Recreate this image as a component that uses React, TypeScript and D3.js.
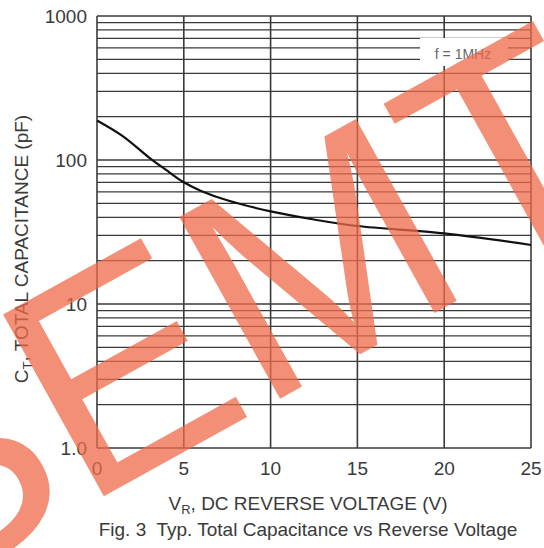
import React from "react";
import * as d3 from "d3";

// Data
const volts = [0, 1.5, 3, 4, 5, 6, 7.5, 10, 12.5, 15, 20, 25];
const capPF = [188, 146, 104, 85, 70, 61, 52.5, 44, 38.6, 34.8, 30.9, 25.7];
const xTicks = [0, 5, 10, 15, 20, 25];
const yTicks = [1, 10, 100, 1000];
const yTickLabels = ["1.0", "10", "100", "1000"];
const decades = [1, 10, 100];
const multiples = [2, 3, 4, 5, 6, 7, 8, 9];
const noteText = "f = 1MHz";
const xTitleMain = "V";
const xTitleSub = "R";
const xTitleRest = ", DC REVERSE VOLTAGE (V)";
const yTitleMain = "C";
const yTitleSub = "T";
const yTitleRest = ", TOTAL CAPACITANCE (pF)";
const caption = "Fig. 3  Typ. Total Capacitance vs Reverse Voltage";
const watermark = "SEMT";

const W = 544;
const H = 548;
const FONT = "'Liberation Sans', Arial, Helvetica, sans-serif";

export default function App() {
  const x = d3.scaleLinear().domain([0, 25]).range([97, 531]);
  const y = d3.scaleLog().domain([1, 1000]).range([448, 16]);

  const pts = volts.map((v, i) => [v, capPF[i]] as [number, number]);
  const line = d3
    .line<[number, number]>()
    .x((d) => x(d[0]))
    .y((d) => y(d[1]))
    .curve(d3.curveCatmullRom.alpha(0.5));

  const minor: number[] = [];
  decades.forEach((d) => multiples.forEach((m) => minor.push(d * m)));

  const gridColor = "#3a3a3a";
  const x0 = x(0);
  const x1 = x(25);

  return (
    <svg
      width={W}
      height={H}
      style={{ position: "absolute", left: 0, top: 0, background: "#fff" }}
      fontFamily={FONT}
    >
      <rect x={0} y={0} width={W} height={H} fill="#fff" />
      {/* horizontal grid */}
      {minor.map((v) => (
        <line key={"m" + v} x1={x0} x2={x1} y1={y(v)} y2={y(v)} stroke={gridColor} strokeWidth={1.3} />
      ))}
      {yTicks.map((v) => (
        <line key={"M" + v} x1={x0} x2={x1} y1={y(v)} y2={y(v)} stroke={gridColor} strokeWidth={1.5} />
      ))}
      {/* vertical grid */}
      {xTicks.map((v) => (
        <line key={"v" + v} x1={x(v)} x2={x(v)} y1={y(1000)} y2={y(1)} stroke={gridColor} strokeWidth={1.6} />
      ))}
      {/* note box */}
      <rect x={420} y={38} width={88} height={28} fill="#fff" />
      <text x={463} y={59} fontSize={14} fill="#666" textAnchor="middle">
        {noteText}
      </text>
      {/* curve */}
      <path d={line(pts) || ""} fill="none" stroke="#111" strokeWidth={2.2} />
      {/* y tick labels */}
      {yTicks.map((v, i) => (
        <text key={"yl" + v} x={87} y={y(v)} dy="0.36em" fontSize={19} fill="#3a3a3a" textAnchor="end">
          {yTickLabels[i]}
        </text>
      ))}
      {/* x tick labels */}
      {xTicks.map((v) => (
        <text key={"xl" + v} x={x(v)} y={475} fontSize={19} fill="#3a3a3a" textAnchor="middle">
          {v}
        </text>
      ))}
      {/* x title */}
      <text x={308} y={510} fontSize={19} fill="#3a3a3a" textAnchor="middle">
        <tspan>{xTitleMain}</tspan>
        <tspan fontSize={13} dy={4}>{xTitleSub}</tspan>
        <tspan dy={-4}>{xTitleRest}</tspan>
      </text>
      {/* y title */}
      <text transform="translate(28,249) rotate(-90)" fontSize={19} fill="#3a3a3a" textAnchor="middle">
        <tspan>{yTitleMain}</tspan>
        <tspan fontSize={13} dy={4}>{yTitleSub}</tspan>
        <tspan dy={-4}>{yTitleRest}</tspan>
      </text>
      {/* caption */}
      <text
        x={308}
        y={536}
        fontSize={19}
        fill="#3a3a3a"
        textAnchor="middle"
        style={{ whiteSpace: "pre" }}
      >
        {caption}
      </text>
      {/* watermark */}
      <text
        x={-94}
        y={606}
        transform="rotate(-29,-94,606)"
        fontSize={302}
        fill="#ee6a48"
        fillOpacity={0.75}
      >
        {watermark}
      </text>
    </svg>
  );
}
